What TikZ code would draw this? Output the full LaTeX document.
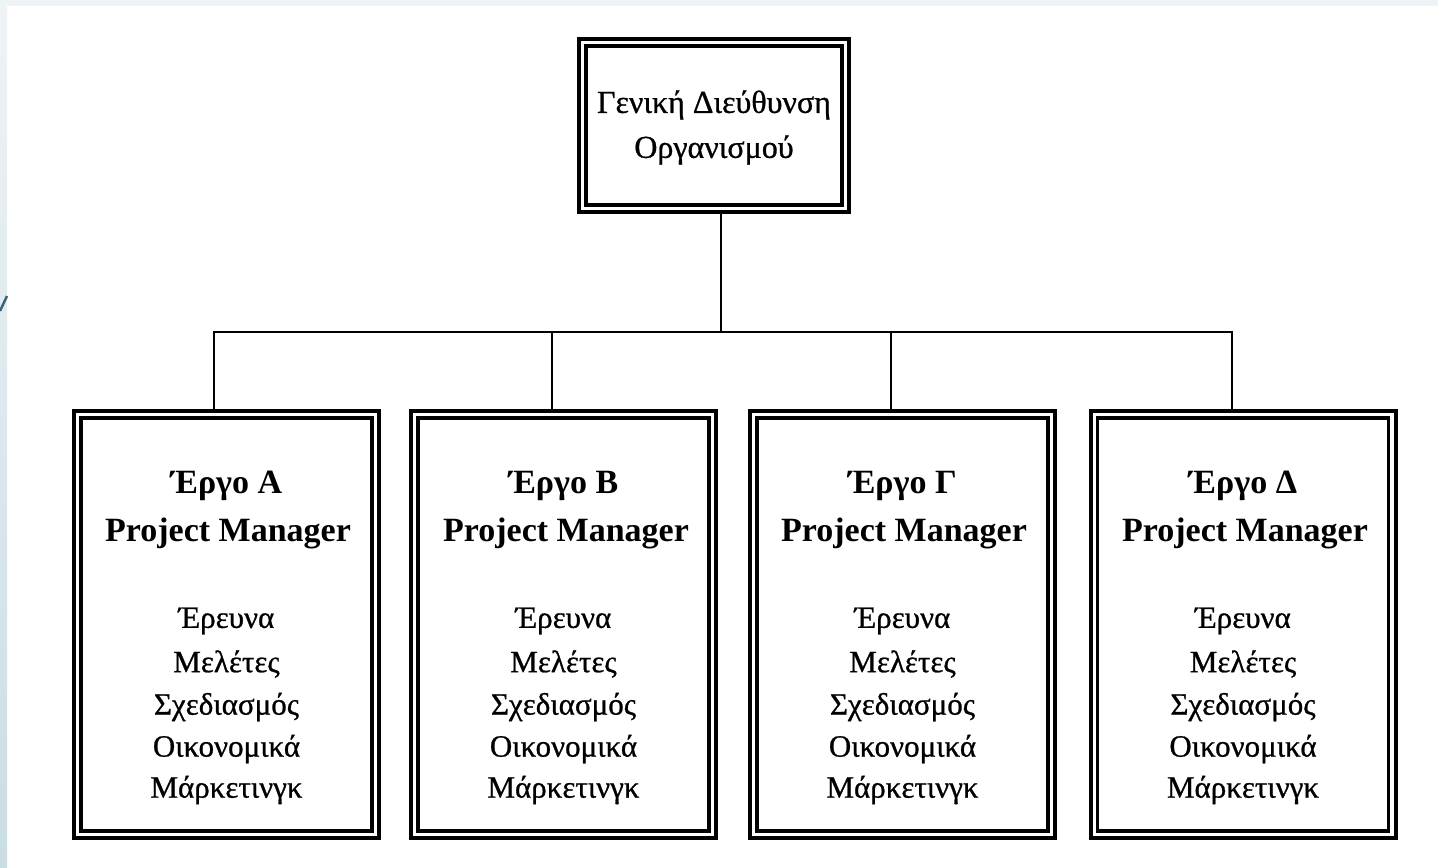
\documentclass[tikz,border=0pt]{standalone}
\usepackage{fontspec}
\setmainfont{Liberation Serif}
\newfontfamily\heavyserif{Liberation Serif}[FakeBold=0.8]

\definecolor{stripgrey}{HTML}{EEF3F6}
\definecolor{stripblue}{HTML}{C9DDE5}
\definecolor{stripline}{HTML}{3B6178}

\tikzset{
    orgbox/.style={draw, line width=2pt, inner sep=0pt},
    headbox/.style={orgbox, minimum width=135pt, minimum height=86.5pt},
    projbox/.style={orgbox, minimum width=152.5pt, minimum height=213.5pt},
    boxline/.style={line width=1.6pt},
    link/.style={line width=0.8pt},
    headtext/.style={font=\fontsize{16}{19}\heavyserif},
    titletext/.style={font=\fontsize{17}{20}\selectfont\bfseries},
    listtext/.style={font=\fontsize{15.5}{18}\heavyserif}
}

\begin{document}
\begin{tikzpicture}[x=0.5pt, y=-0.5pt]
    \useasboundingbox (0, 0) rectangle (1438, 867);

    % slide edge
    \shade[top color=stripgrey, bottom color=stripblue] (0, 0) rectangle (7, 867);
    \fill[stripgrey] (7, 0) rectangle (1438, 6);
    \draw[line width=1.2pt, stripline] (0, 311) -- (7, 296);

    % top box
    \node[headbox] (gd) at (714, 125.5) { };
    \draw[boxline] ([shift={(4.5pt,-4.5pt)}]gd.north west) rectangle ([shift={(-4.5pt,4.5pt)}]gd.south east);
    \node[headtext] (gd1) at (714, 105) { Γενική Διεύθυνση };
    \node[headtext] (gd2) at (714, 150) { Οργανισμού };

    % project boxes
    \node[projbox] (pa) at (226.5, 624.5) { };
    \node[projbox] (pb) at (563.5, 624.5) { };
    \node[projbox] (pc) at (902.5, 624.5) { };
    \node[projbox] (pd) at (1243, 624.5) { };
    \draw[boxline] ([shift={(4.5pt,-4.5pt)}]pa.north west) rectangle ([shift={(-4.5pt,4.5pt)}]pa.south east);
    \draw[boxline] ([shift={(4.5pt,-4.5pt)}]pb.north west) rectangle ([shift={(-4.5pt,4.5pt)}]pb.south east);
    \draw[boxline] ([shift={(4.5pt,-4.5pt)}]pc.north west) rectangle ([shift={(-4.5pt,4.5pt)}]pc.south east);
    \draw[boxline] ([shift={(4.5pt,-4.5pt)}]pd.north west) rectangle ([shift={(-4.5pt,4.5pt)}]pd.south east);

    \node[titletext] (pa1) at (226.5, 486) { Έργο Α };
    \node[titletext] (pa2) at (228, 533) { Project Manager };
    \node[listtext] (pa3) at (226.5, 621) { Έρευνα };
    \node[listtext] (pa4) at (226.5, 664) { Μελέτες };
    \node[listtext] (pa5) at (226.5, 707) { Σχεδιασμός };
    \node[listtext] (pa6) at (226.5, 749) { Οικονομικά };
    \node[listtext] (pa7) at (226.5, 790) { Μάρκετινγκ };

    \node[titletext] (pb1) at (563.5, 486) { Έργο Β };
    \node[titletext] (pb2) at (566, 533) { Project Manager };
    \node[listtext] (pb3) at (563.5, 621) { Έρευνα };
    \node[listtext] (pb4) at (563.5, 664) { Μελέτες };
    \node[listtext] (pb5) at (563.5, 707) { Σχεδιασμός };
    \node[listtext] (pb6) at (563.5, 749) { Οικονομικά };
    \node[listtext] (pb7) at (563.5, 790) { Μάρκετινγκ };

    \node[titletext] (pc1) at (902.5, 486) { Έργο Γ };
    \node[titletext] (pc2) at (904, 533) { Project Manager };
    \node[listtext] (pc3) at (902.5, 621) { Έρευνα };
    \node[listtext] (pc4) at (902.5, 664) { Μελέτες };
    \node[listtext] (pc5) at (902.5, 707) { Σχεδιασμός };
    \node[listtext] (pc6) at (902.5, 749) { Οικονομικά };
    \node[listtext] (pc7) at (902.5, 790) { Μάρκετινγκ };

    \node[titletext] (pd1) at (1243, 486) { Έργο Δ };
    \node[titletext] (pd2) at (1245, 533) { Project Manager };
    \node[listtext] (pd3) at (1243, 621) { Έρευνα };
    \node[listtext] (pd4) at (1243, 664) { Μελέτες };
    \node[listtext] (pd5) at (1243, 707) { Σχεδιασμός };
    \node[listtext] (pd6) at (1243, 749) { Οικονομικά };
    \node[listtext] (pd7) at (1243, 790) { Μάρκετινγκ };

    % connectors
    \coordinate (busA) at (214, 332);
    \coordinate (busB) at (552, 332);
    \coordinate (busM) at (721, 332);
    \coordinate (busC) at (891, 332);
    \coordinate (busD) at (1232, 332);

    \draw[link] (gd.south -| busM) -- (busM);
    \draw[link] (pa.north -| busA) -- (busA) -- (busD) -- (pd.north -| busD);
    \draw[link] (busB) -- (pb.north -| busB);
    \draw[link] (busC) -- (pc.north -| busC);
\end{tikzpicture}
\end{document}
